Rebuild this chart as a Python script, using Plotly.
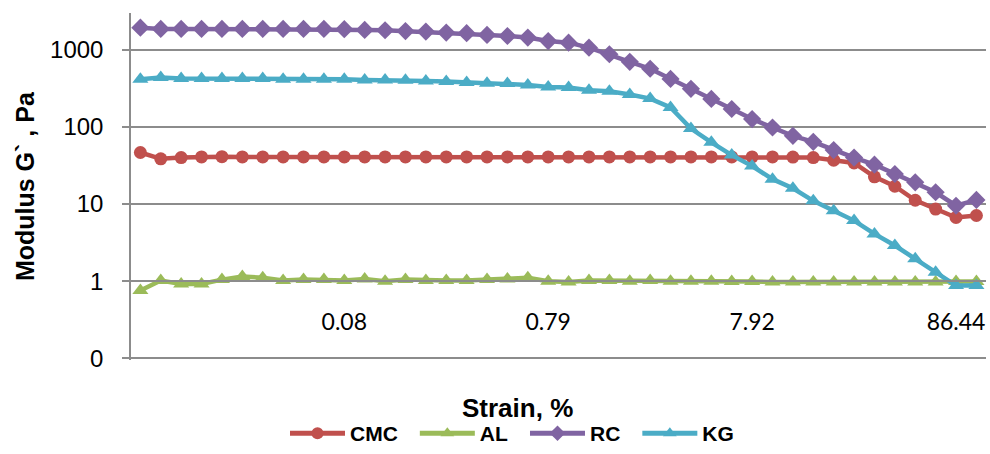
import plotly.graph_objects as go

# Category positions (equal spacing, log-spaced strain steps) and labelled ticks
point_index = list(range(42))
tick_positions = [10, 20, 30, 40]
tick_labels = ["0.08", "0.79", "7.92", "86.44"]

y_tick_values = [0.1, 1, 10, 100, 1000]
y_tick_labels = ["0", "1", "10", "100", "1000"]

# Storage modulus G' (Pa) for each sample
cmc = [46.5, 38.5, 40.0, 40.8, 41.0, 40.8, 40.8, 40.8, 40.8, 40.8,
       40.8, 40.8, 40.8, 40.8, 40.8, 40.8, 40.8, 40.8, 40.8, 40.8,
       40.8, 40.8, 40.8, 40.8, 40.8, 40.8, 40.8, 40.8, 40.8, 40.8,
       40.8, 40.8, 40.5, 40.0, 37.0, 34.0, 22.5, 17.0, 11.2, 8.6,
       6.7, 7.1]
al = [0.76, 1.02, 0.92, 0.92, 1.05, 1.15, 1.11, 1.02, 1.05, 1.05,
      1.02, 1.07, 1.00, 1.05, 1.02, 1.02, 1.02, 1.05, 1.07, 1.11,
      1.00, 0.98, 1.02, 1.02, 1.00, 1.02, 1.00, 1.00, 1.00, 0.99,
      0.99, 0.98, 0.98, 0.98, 0.98, 0.98, 0.98, 0.98, 0.98, 0.98,
      0.99, 0.99]
rc = [1923, 1850, 1850, 1850, 1850, 1850, 1850, 1850, 1850, 1850,
      1840, 1800, 1780, 1740, 1710, 1660, 1630, 1550, 1500, 1430,
      1290, 1230, 1060, 871, 695, 565, 417, 310, 230, 170,
      126, 98, 76.5, 64, 50, 40, 32.3, 24.5, 19.1, 14.2,
      9.5, 11.3]
kg = [414, 434, 421, 421, 421, 421, 421, 414, 414, 414,
      414, 405, 405, 401, 393, 385, 374, 367, 363, 349,
      329, 322, 298, 289, 262, 232, 178, 95, 63, 43,
      31, 21, 16, 11.0, 8.2, 6.1, 4.1, 2.9, 1.95, 1.31,
      0.88, 0.88]

series = [
    ("CMC", cmc, "#C0504D", "circle", 13),
    ("AL", al, "#9BBB59", "triangle-up", 14),
    ("RC", rc, "#8064A2", "diamond", 14),
    ("KG", kg, "#4BACC6", "triangle-up", 14),
]

fig = go.Figure()
for name, values, color, symbol, size in series:
    fig.add_trace(go.Scatter(
        x=point_index, y=values, name=name, mode="lines+markers",
        line=dict(color=color, width=4.5),
        marker=dict(symbol=symbol, size=size, color=color),
    ))

Y_MIN, Y_MAX = -1.02, 3.474
grid_color = "#8C8C8C"

fig.update_layout(
    width=990, height=454,
    margin=dict(l=131, r=4, t=13, b=94, autoexpand=False),
    plot_bgcolor="white", paper_bgcolor="white",
    font=dict(family="Liberation Sans, Arial, sans-serif", color="#000000"),
    showlegend=True,
    legend=dict(
        orientation="h", x=(273 - 131) / 855, y=(359.9 - 454) / 347,
        xanchor="left", yanchor="bottom",
        font=dict(size=21, family="Liberation Sans, Arial, sans-serif", weight="bold"),
        itemwidth=55, indentation=12, itemsizing="constant", tracegroupgap=0,
    ),
    xaxis=dict(
        range=[-0.46, 41.47], tickmode="array", tickvals=tick_positions,
        ticktext=tick_labels, showgrid=False, zeroline=False,
        anchor="free", position=(0 - Y_MIN) / (Y_MAX - Y_MIN),
        showline=True, linecolor=grid_color, linewidth=1.5,
        ticks="outside", ticklen=20, tickcolor="rgba(0,0,0,0)",
        tickfont=dict(family="Lato, sans-serif", size=23, color="#000000"),
    ),
    yaxis=dict(
        type="log", range=[Y_MIN, Y_MAX], tickmode="array",
        tickvals=y_tick_values, ticktext=y_tick_labels,
        showgrid=True, gridcolor=grid_color, gridwidth=1.5,
        showline=True, linecolor=grid_color, linewidth=1.5,
        ticks="outside", ticklen=7, tickcolor=grid_color, tickwidth=1.5,
        ticklabelstandoff=14, zeroline=False,
        tickfont=dict(size=24, color="#000000"),
    ),
    annotations=[
        dict(text="<b>Strain, %</b>", xref="paper", yref="paper",
             x=(517 - 131) / 855, y=(359.9 - 408) / 347,
             xanchor="center", yanchor="middle", showarrow=False,
             font=dict(size=26)),
        dict(text="<b>Modulus G` , Pa</b>", xref="paper", yref="paper",
             x=(25 - 131) / 855, y=(359.9 - 186) / 347, textangle=-90,
             xanchor="center", yanchor="middle", showarrow=False,
             font=dict(size=25)),
    ],
)

fig.write_html("out.html")
